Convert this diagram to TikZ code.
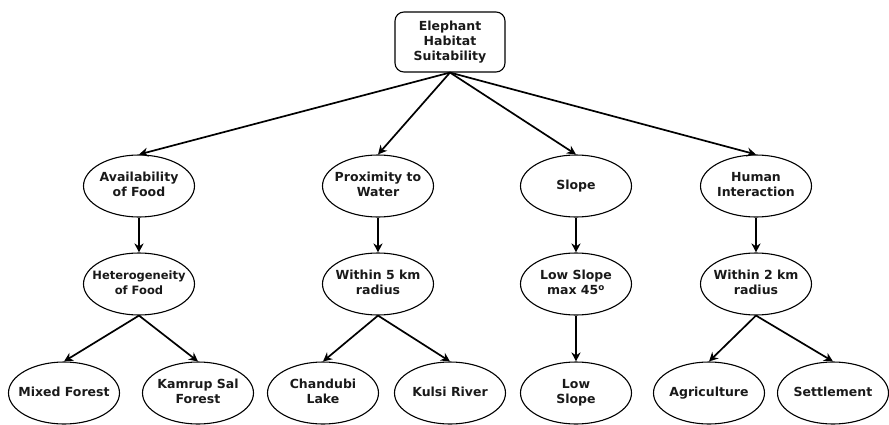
\documentclass[tikz,border=0pt]{standalone}
\usepackage{fontspec}
\setmainfont{DejaVu Sans}
\usetikzlibrary{shapes.geometric,arrows.meta}
\newcommand{\ctext}[1]{\makebox[0pt]{\begin{tabular}{@{}c@{}}#1\end{tabular}}}
\begin{document}
\begin{tikzpicture}[x=1pt,y=-1pt,
  every node/.style={font=\bfseries\fontsize{12.5}{15}\selectfont, text=black!90},
  ell/.style={ellipse, draw, line width=1.1pt, minimum width=111pt, minimum height=62pt, inner sep=0pt},
  rootbox/.style={rectangle, rounded corners=9pt, draw, line width=1.1pt, minimum width=110pt, minimum height=60pt, inner sep=0pt},
  conn/.style={line width=1.7pt, -{Stealth[length=9pt,width=9pt]}}]
\useasboundingbox (0,0) rectangle (889,424);
\node[rootbox] (root) at (450,42) {\ctext{Elephant\\Habitat\\Suitability}};
\node[ell] (a1) at (139,186) {\ctext{Availability\\of Food}};
\node[ell] (b1) at (378,186) {\ctext{Proximity to\\Water}};
\node[ell] (c1) at (576,186) {\ctext{Slope}};
\node[ell] (d1) at (756,186) {\ctext{Human\\Interaction}};
\node[ell] (a2) at (139,284) {\fontsize{11.5}{15}\selectfont\ctext{Heterogeneity\\of Food}};
\node[ell] (b2) at (378,284) {\ctext{Within 5 km\\radius}};
\node[ell] (c2) at (576,284) {\ctext{Low Slope\\max 45\textsuperscript{o}}};
\node[ell] (d2) at (756,284) {\ctext{Within 2 km\\radius}};
\node[ell] (a3) at (64,393) {\ctext{Mixed Forest}};
\node[ell] (a4) at (198,393) {\ctext{Kamrup Sal\\Forest}};
\node[ell] (b3) at (323,393) {\ctext{Chandubi\\Lake}};
\node[ell] (b4) at (450,393) {\ctext{Kulsi River}};
\node[ell] (c3) at (576,393) {\ctext{Low\\Slope}};
\node[ell] (d3) at (709,393) {\ctext{Agriculture}};
\node[ell] (d4) at (833,393) {\ctext{Settlement}};
\foreach \t in {a1,b1,c1,d1} \draw[conn] (root.south) -- (\t.north);
\draw[conn] (a1) -- (a2);
\draw[conn] (b1) -- (b2);
\draw[conn] (c1) -- (c2);
\draw[conn] (d1) -- (d2);
\draw[conn] (a2.south) -- (a3.north);
\draw[conn] (a2.south) -- (a4.north);
\draw[conn] (b2.south) -- (b3.north);
\draw[conn] (b2.south) -- (b4.north);
\draw[conn] (c2) -- (c3);
\draw[conn] (d2.south) -- (d3.north);
\draw[conn] (d2.south) -- (d4.north);
\end{tikzpicture}
\end{document}
